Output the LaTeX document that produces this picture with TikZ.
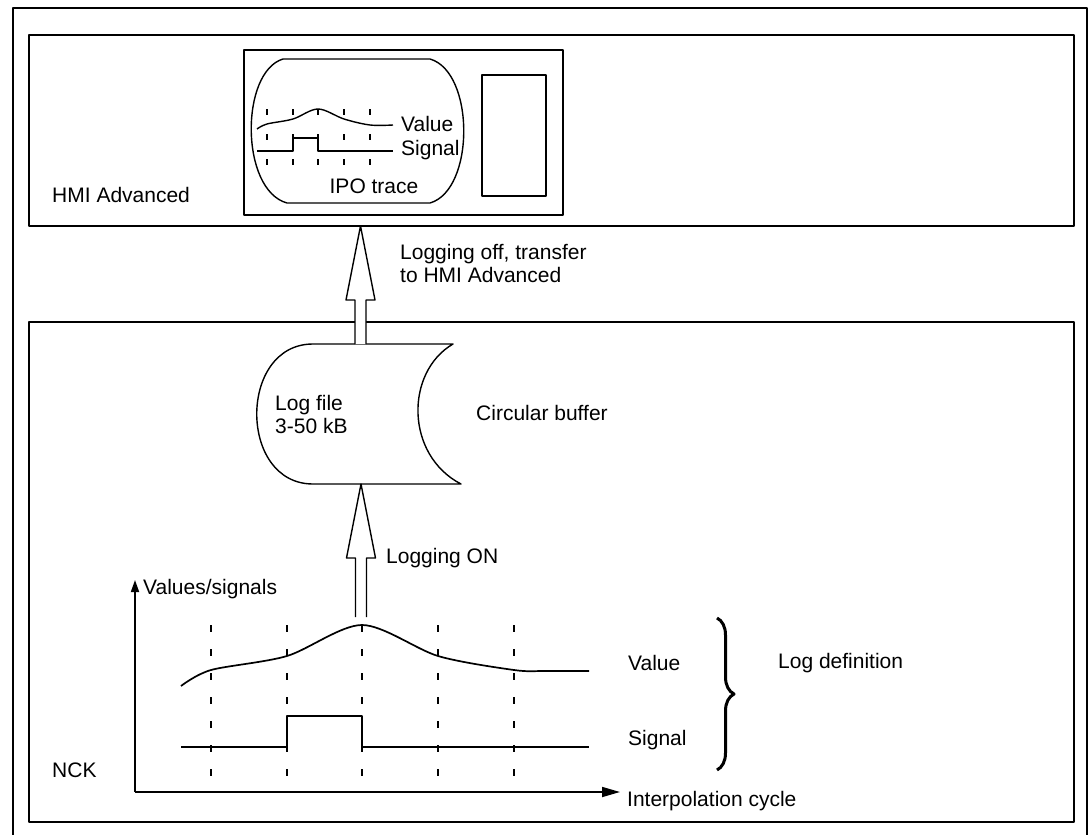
\documentclass[tikz,border=0pt]{standalone}
\usepackage{fontspec}
\setmainfont{Liberation Sans}
\usetikzlibrary{calc,arrows.meta,decorations.pathreplacing}
\newcommand{\blockup}[2]{%
  \draw[blockarrow] ($(#1)+(-5.5,0)$) -- ($(#2)+(-5.5,74)$) -- ($(#2)+(-14.5,74)$) -- (#2)
    -- ($(#2)+(14.5,74)$) -- ($(#2)+(5.5,74)$) -- ($(#1)+(5.5,0)$);}
\begin{document}
\begin{tikzpicture}[x=1pt,y=-1pt,line join=round,
  frame/.style={draw=black,line width=1.8pt},
  thinline/.style={line width=1.4pt},
  curve/.style={line width=1.7pt},
  blockarrow/.style={draw=black,line width=1.4pt,fill=white},
  ticks/.style={line width=1.3pt,dash pattern=on 6pt off 19pt},
  grid/.style={line width=1.5pt,dash pattern=on 7pt off 17pt},
  lbl/.style={inner sep=0pt,anchor=west,font=\fontsize{21}{23}\selectfont,align=left}]
\useasboundingbox (0,0) rectangle (1088,835);
% outer frame
\draw[line width=1.6pt] (13,835) -- (13,8) -- (1087,8) -- (1087,835);
% HMI and NCK boxes
\draw[frame] (29,35) rectangle (1074,226);
\coordinate (hmibot) at (360.5,226);
\draw[frame] (29,322) rectangle (1074,822);
\node[lbl] (hmi) at (52,195) {HMI Advanced};
\node[lbl] (nck) at (52,770) {NCK};
% screen
\draw[thinline] (244,50) rectangle (563,215);
\draw[thinline] (283,59) -- (430,59) .. controls (475,72) and (475,190) .. (430,203)
  -- (287,203) .. controls (240,190) and (240,72) .. (283,59);
\draw[thinline] (482,75) rectangle (546,196);
\foreach \x in {267,293,318,344,370} \draw[ticks] (\x,109) -- (\x,165);
\draw[thinline] plot[smooth,tension=0.55] coordinates {(257,129) (267,124) (293,119) (318,109) (344,119) (370,125) (393,125)};
\draw[thinline] (257,151) -- (293,151) -- (293,138) -- (318,138) -- (318,151) -- (393,151);
\node[lbl] (mval) at (401,124) {Value};
\node[lbl] (msig) at (401,150) {Signal};
\node[lbl,anchor=center] (ipo) at (374,186) {IPO trace};
% buffer
\draw[thinline,fill=white] (313,344) -- (453,344) .. controls (405,372) and (405,455) .. (461,484)
  -- (313,484) .. controls (238,484) and (238,344) .. (313,344);
\coordinate (buftop) at (360.5,344);
\coordinate (bufbot) at (361,484);
\node[lbl] (logfile) at (275,414.5) {Log file\\3-50 kB};
\node[lbl] (circ) at (476,413) {Circular buffer};
% arrows
\blockup{buftop}{hmibot}
\node[lbl] (logoff) at (400,263.5) {Logging off, transfer\\to HMI Advanced};
\coordinate (logbase) at (361,617);
\blockup{logbase}{bufbot}
\node[lbl] (logon) at (386,558) {Logging ON};
% graph axes
\coordinate (origin) at (135,792);
\coordinate (ytip) at (135,580);
\coordinate (xtip) at (620,792);
\draw[line width=1.7pt,-{Triangle[length=12pt,width=8pt]}] (origin) -- (ytip);
\draw[line width=1.7pt,-{Triangle[length=18pt,width=10pt]}] (origin) -- (xtip);
\node[lbl] (vs) at (143,589) {Values/signals};
\node[lbl] (ic) at (627,801) {Interpolation cycle};
\foreach \x in {211,287,362,438,514} \draw[grid] (\x,625) -- (\x,777);
\draw[curve] plot[smooth,tension=0.5] coordinates {(181,686) (211,670) (287,656) (362,625) (438,656) (514,670) (545,671) (589,671)};
\draw[curve] (181,747) -- (287,747) -- (287,716) -- (362,716) -- (362,747) -- (589,747);
\node[lbl] (val) at (628,663) {Value};
\node[lbl] (sig) at (628,740) {Signal};
\draw[line width=3pt,decorate,decoration={brace,amplitude=17pt}] (717,618) -- (717,770);
\node[lbl] (logdef) at (778,663) {Log definition};
\end{tikzpicture}
\end{document}
